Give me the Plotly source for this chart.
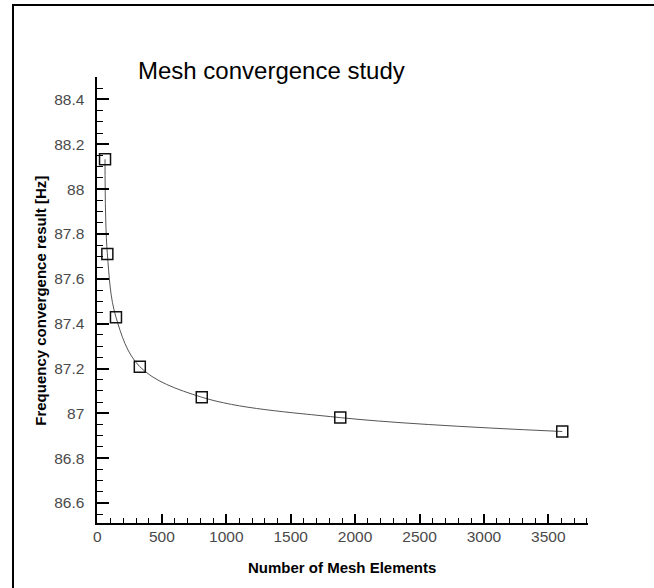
import plotly.graph_objects as go

# Mesh convergence results
mesh_elements = [59, 77, 144, 329, 810, 1885, 3608]
frequency_hz = [88.133, 87.711, 87.429, 87.208, 87.072, 86.981, 86.919]

title_text = "Mesh convergence study"
x_title = "Number of Mesh Elements"
y_title = "Frequency convergence result [Hz]"

W, H = 654, 588
L, R, T, B = 94, 588, 77, 523  # plot area edges in pixels


def fx(xp):
    """pixel column -> paper fraction (paper = whole canvas)"""
    return xp / W


def fy(yp):
    """pixel row -> paper fraction (paper = whole canvas)"""
    return (H - yp) / H


fig = go.Figure()

# smooth curve through the results
fig.add_trace(go.Scatter(
    x=mesh_elements, y=frequency_hz, mode="lines",
    line=dict(shape="spline", smoothing=1.0, color="#555555", width=1),
    hoverinfo="skip", showlegend=False,
))
# result markers
fig.add_trace(go.Scatter(
    x=mesh_elements, y=frequency_hz, mode="markers",
    marker=dict(symbol="square-open", size=11, color="#111111",
                line=dict(width=1.5, color="#111111")),
    showlegend=False,
))
# empty trace so the frame axis pair gets drawn
fig.add_trace(go.Scatter(
    x=[], y=[], xaxis="x2", yaxis="y2", mode="lines",
    hoverinfo="skip", showlegend=False,
))

axis_font = dict(family="Liberation Sans, Arial, sans-serif", size=15.5, color="#4a4a4a")

fig.update_layout(
    xaxis=dict(
        domain=[fx(L), fx(R)], anchor="y",
        range=[0, 3811], tick0=0, dtick=500, showgrid=False, zeroline=False,
        showline=True, linecolor="black", linewidth=2,
        ticks="inside", ticklen=9, tickwidth=2, tickcolor="black",
        tickfont=axis_font, ticklabelstandoff=-2,
        minor=dict(dtick=100, ticks="inside", ticklen=5, tickwidth=1, tickcolor="black"),
    ),
    yaxis=dict(
        domain=[fy(B), fy(T)], anchor="x",
        range=[86.511, 88.5], tick0=86.6, dtick=0.2, showgrid=False, zeroline=False,
        showline=True, linecolor="black", linewidth=2,
        ticks="inside", ticklen=12, tickwidth=2, tickcolor="black",
        tickfont=axis_font, ticklabelstandoff=8,
        minor=dict(dtick=0.05, ticks="inside", ticklen=6, tickwidth=1, tickcolor="black"),
    ),
    # outer frame: top and left edges drawn as lines of a bare axis pair
    xaxis2=dict(
        domain=[fx(10), 1], anchor="y2", side="top", range=[0, 1],
        showline=True, linecolor="black", linewidth=2,
        showgrid=False, zeroline=False, showticklabels=False, ticks="",
        fixedrange=True,
    ),
    yaxis2=dict(
        domain=[0, fy(6)], anchor="x2", side="left", range=[0, 1],
        showline=True, linecolor="black", linewidth=2,
        showgrid=False, zeroline=False, showticklabels=False, ticks="",
        fixedrange=True,
    ),
)

fig.add_annotation(
    text=title_text, xref="paper", yref="paper", x=fx(269), y=fy(70),
    xanchor="center", yanchor="middle", showarrow=False,
    font=dict(family="Liberation Sans, Arial, sans-serif", size=24, color="black"),
)
fig.add_annotation(
    text="<b>" + x_title + "</b>", xref="paper", yref="paper", x=fx(340), y=fy(567),
    xanchor="center", yanchor="middle", showarrow=False,
    font=dict(family="Liberation Sans, Arial, sans-serif", size=15, color="black"),
)
fig.add_annotation(
    text="<b>" + y_title + "</b>", xref="paper", yref="paper", x=fx(36), y=fy(301),
    xanchor="center", yanchor="middle", showarrow=False, textangle=-90,
    font=dict(family="Liberation Sans, Arial, sans-serif", size=15, color="black"),
)

fig.update_layout(
    width=W, height=H, autosize=False, showlegend=False,
    margin=dict(l=0, r=0, t=0, b=0),
    paper_bgcolor="white", plot_bgcolor="rgba(0,0,0,0)",
)

fig.write_html("out.html")
